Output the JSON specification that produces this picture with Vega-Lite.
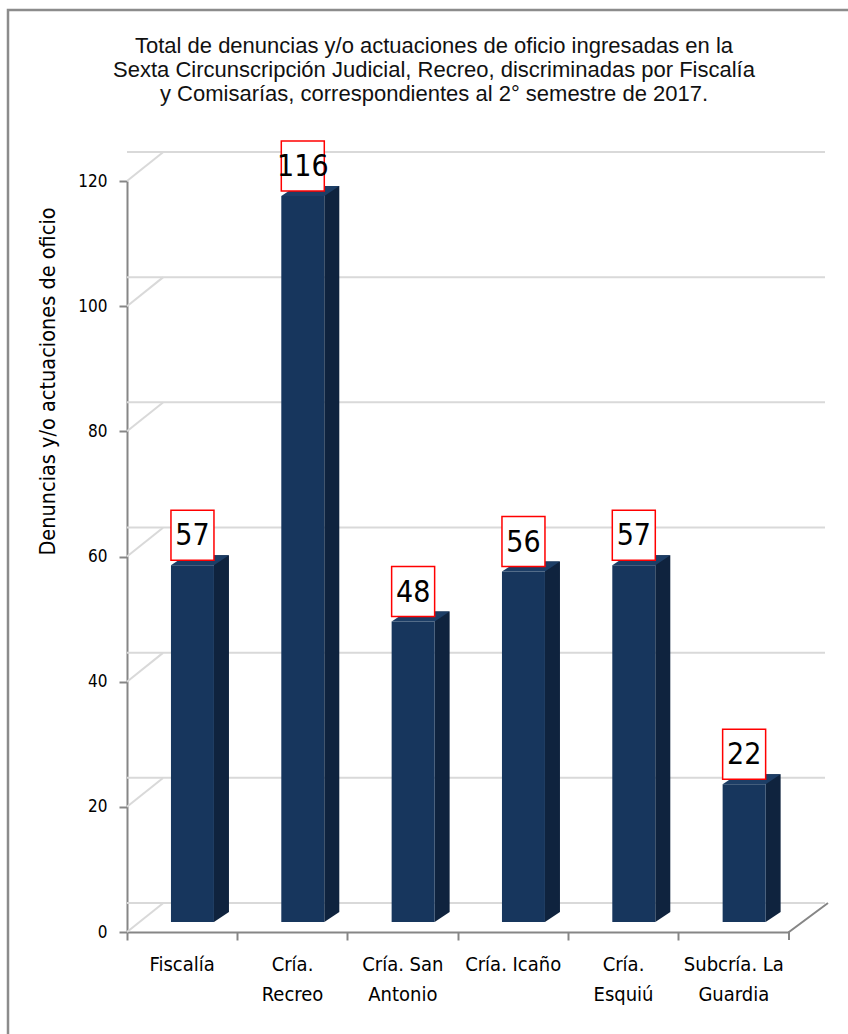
{
  "$schema": "https://vega.github.io/schema/vega-lite/v6.json",
  "width": 662,
  "height": 751,
  "autosize": "none",
  "padding": {"left": 127, "top": 181, "right": 59, "bottom": 102},
  "background": "white",
  "config": {"view": {"stroke": null}},
  "title": {
    "text": ["Total de denuncias y/o actuaciones de oficio ingresadas en la", "Sexta Circunscripción Judicial, Recreo, discriminadas por Fiscalía", "y Comisarías, correspondientes al 2° semestre de 2017."],
    "font": "Liberation Sans",
    "fontSize": 22,
    "fontWeight": "normal",
    "lineHeight": 24,
    "color": "#111111",
    "anchor": "middle",
    "frame": "group",
    "dx": -24,
    "offset": -101
  },
  "datasets": {
    "bars": [
      {"cat": "Fiscalía", "v": 57},
      {"cat": "Cría. Recreo", "v": 116},
      {"cat": "Cría. San Antonio", "v": 48},
      {"cat": "Cría. Icaño", "v": 56},
      {"cat": "Cría. Esquiú", "v": 57},
      {"cat": "Subcría. La Guardia", "v": 22}
    ],
    "grid": [{"g": 0}, {"g": 20}, {"g": 40}, {"g": 60}, {"g": 80}, {"g": 100}, {"g": 120}],
    "one": [{"k": 1}]
  },
  "resolve": {"axis": {"x": "independent"}},
  "layer": [
    {
      "data": {"name": "grid"},
      "mark": {"type": "rule", "stroke": "#D9D9D9", "strokeWidth": 2, "xOffset": 36, "x2Offset": 39, "yOffset": -29, "y2Offset": -29},
      "encoding": {
        "y": {"field": "g", "type": "quantitative", "scale": {"domain": [0, 120], "nice": false, "zero": true},
          "axis": {"values": [0, 20, 40, 60, 80, 100, 120], "grid": false, "domainColor": "#868686", "domainWidth": 2, "tickColor": "#868686", "tickWidth": 2, "tickSize": 8, "labelPadding": 12, "labelFont": "Liberation Sans Narrow, DejaVu Sans Condensed, sans-serif", "labelFontSize": 17, "labelColor": "#000000", "title": "Denuncias y/o actuaciones de oficio", "titleFont": "Liberation Sans Narrow, DejaVu Sans Condensed, sans-serif", "titleFontSize": 21.5, "titleFontWeight": "normal", "titleColor": "#000000", "titlePadding": 18, "titleY": 200}}
      }
    },
    {
      "data": {"name": "one"},
      "mark": {"type": "point", "shape": "M0,1L0,0L1,0", "size": 4840000, "filled": false, "stroke": "#8C8C8C", "strokeWidth": 2.5, "opacity": 1, "xOffset": -119, "yOffset": -171},
      "encoding": {
        "x": {"datum": "Fiscalía", "type": "nominal", "bandPosition": 0, "axis": null},
        "y": {"datum": 120, "type": "quantitative"}
      }
    },
    {
      "data": {"name": "grid"},
      "mark": {"type": "point", "shape": "M0,0L1,-0.8", "size": 5184, "filled": false, "stroke": "#D9D9D9", "strokeWidth": 2, "opacity": 1},
      "encoding": {
        "x": {"datum": "Fiscalía", "type": "nominal", "bandPosition": 0, "axis": null},
        "y": {"field": "g", "type": "quantitative"}
      }
    },
    {
      "data": {"name": "one"},
      "mark": {"type": "point", "shape": "M0,0.2051L0,0L1,-0.7436", "size": 6084, "filled": false, "stroke": "#868686", "strokeWidth": 2, "opacity": 1},
      "encoding": {
        "x": {"datum": "Subcría. La Guardia", "type": "nominal", "bandPosition": 1, "axis": null},
        "y": {"datum": 0, "type": "quantitative"}
      }
    },
    {
      "data": {"name": "bars"},
      "mark": {"type": "bar", "width": 15, "color": "#0F233E", "xOffset": 39.3, "yOffset": -20, "y2Offset": -20},
      "encoding": {
        "x": {"field": "cat", "type": "nominal", "scale": {"domain": ["Fiscalía", "Cría. Recreo", "Cría. San Antonio", "Cría. Icaño", "Cría. Esquiú", "Subcría. La Guardia"], "paddingInner": 0, "paddingOuter": 0},
          "axis": {"bandPosition": 0, "labels": false, "title": null, "domainColor": "#868686", "domainWidth": 2, "tickColor": "#868686", "tickWidth": 2, "tickSize": 8, "orient": "bottom"}},
        "y": {"field": "v", "type": "quantitative"}
      }
    },
    {
      "data": {"name": "bars"},
      "mark": {"type": "point", "shape": "M-0.5,-0.3333L0.5,-0.3333L-0.5,0.3333Z", "size": 900, "filled": true, "fill": "#0F233E", "strokeWidth": 0, "opacity": 1, "xOffset": 39.3, "yOffset": -15},
      "encoding": {
        "x": {"field": "cat", "type": "nominal",
          "axis": {"orient": "bottom", "domain": false, "ticks": false, "title": null, "labelAngle": 0, "labelPadding": 22, "labelFont": "Liberation Sans Narrow, DejaVu Sans Condensed, sans-serif", "labelFontSize": 20, "labelColor": "#000000", "labelLineHeight": 30, "labelBaseline": "top",
            "labelExpr": "datum.value == 'Fiscalía' || datum.value == 'Cría. Icaño' ? datum.value : [slice(datum.value, 0, lastindexof(datum.value, ' ')), slice(datum.value, lastindexof(datum.value, ' ') + 1)]"}},
        "y": {"datum": 0, "type": "quantitative"}
      }
    },
    {
      "data": {"name": "bars"},
      "mark": {"type": "bar", "width": 43, "color": "#17365D", "xOffset": 10.3, "yOffset": -10, "y2Offset": -10},
      "encoding": {
        "x": {"field": "cat", "type": "nominal", "axis": null},
        "y": {"field": "v", "type": "quantitative"}
      }
    },
    {
      "data": {"name": "bars"},
      "mark": {"type": "point", "shape": "M-1,0.1724L0.4828,0.1724L1,-0.1724L-0.4828,-0.1724Z", "size": 3364, "filled": true, "fill": "#1D3E66", "strokeWidth": 0, "opacity": 1, "xOffset": 17.8, "yOffset": -15},
      "encoding": {
        "x": {"field": "cat", "type": "nominal", "axis": null},
        "y": {"field": "v", "type": "quantitative"}
      }
    },
    {
      "data": {"name": "bars"},
      "mark": {"type": "point", "shape": "M-0.86,-1L0.86,-1L0.86,1L-0.86,1Z", "size": 2500, "filled": false, "fill": "white", "stroke": "#FF0000", "strokeWidth": 1.5, "opacity": 1, "fillOpacity": 1, "xOffset": 10.3, "yOffset": -40},
      "encoding": {
        "x": {"field": "cat", "type": "nominal", "axis": null},
        "y": {"field": "v", "type": "quantitative"}
      }
    },
    {
      "data": {"name": "bars"},
      "mark": {"type": "text", "font": "Liberation Sans Narrow, DejaVu Sans Condensed, sans-serif", "fontSize": 30, "color": "#000000", "baseline": "middle", "align": "center", "xOffset": 10.3, "yOffset": -39},
      "encoding": {
        "x": {"field": "cat", "type": "nominal", "axis": null},
        "y": {"field": "v", "type": "quantitative"},
        "text": {"field": "v", "type": "quantitative"}
      }
    }
  ]
}
